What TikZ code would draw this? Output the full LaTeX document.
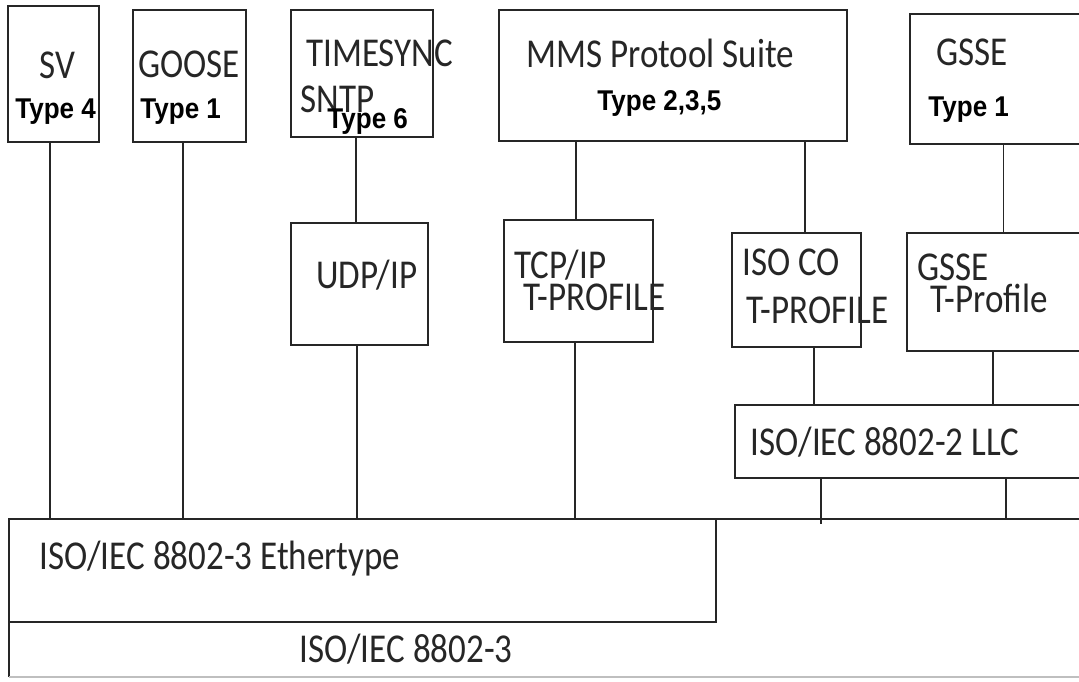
\documentclass[tikz,border=0pt]{standalone}
\usepackage{fontspec}
\usepackage{tikz}
\newfontfamily\calib[FakeStretch=0.854]{Carlito}
\newfontfamily\arialfont[FakeStretch=0.91]{Liberation Sans}

\begin{document}
\begin{tikzpicture}[x=0.5pt,y=-0.5pt,
  box/.style={draw=black!85,line width=1pt,inner sep=0pt,outer sep=0pt},
  link/.style={draw=black!85,line width=0.8pt},
  lbl/.style={anchor=base west,inner sep=0pt,text=black!85,font=\calib\fontsize{20.5}{24}\selectfont},
  typ/.style={anchor=base west,inner sep=0pt,font=\arialfont\bfseries\fontsize{14.3}{17}\selectfont}]
\useasboundingbox (0,0) rectangle (1079,681);
\clip (0,0) rectangle (1079,681);
% application boxes
\node[box,minimum width=45.5pt,minimum height=68pt] (sv) at (53.5,74) {};
\node[box,minimum width=56.5pt,minimum height=66pt] (goose) at (189.5,76) {};
\node[box,minimum width=71pt,minimum height=63.5pt] (tsync) at (362,73.5) {};
\node[box,minimum width=174pt,minimum height=65.5pt] (mms) at (673,75.5) {};
\node[box,minimum width=95pt,minimum height=65pt] (gsse) at (1005,79) {};
% transport profiles
\node[box,minimum width=68.5pt,minimum height=61pt] (udp) at (359.5,284) {};
\node[box,minimum width=74.5pt,minimum height=61pt] (tcp) at (578.5,281) {};
\node[box,minimum width=64.5pt,minimum height=57pt] (isoco) at (796.5,290) {};
\node[box,minimum width=96.5pt,minimum height=59pt] (gsset) at (1003.5,292) {};
% link layer
\node[box,minimum width=182.5pt,minimum height=36.5pt] (llc) at (917.5,441.5) {};
\node[box,minimum width=353.5pt,minimum height=51.5pt] (ether) at (362.5,570.5) {};
\node[inner sep=0pt,outer sep=0pt,minimum width=545.5pt,minimum height=27.5pt] (mac) at (554.5,649.5) {};
\draw[box] (ether.south west) -- (mac.south west);
\draw[box,draw=black!25] (mac.south west) -- (mac.south east);
\coordinate (busend) at (1079,519);
% texts
\node[lbl] (svname) at (39,78) {SV};
\node[typ] (svtype) at (15,118) {Type 4};
\node[lbl] (goosename) at (138,77) {GOOSE};
\node[typ] (goosetype) at (140,118) {Type 1};
\node[lbl] (tsyncname) at (306,66) {TIMESYNC};
\node[lbl] (sntpname) at (300,112) {SNTP};
\node[typ] (tsynctype) at (327,128) {Type 6};
\node[lbl] (mmsname) at (526,67) {MMS Protool Suite};
\node[typ] (mmstype) at (597,110) {Type 2,3,5};
\node[lbl] (gssename) at (936,65) {GSSE};
\node[typ] (gssetype) at (928,116) {Type 1};
\node[lbl] (udpname) at (316,288) {UDP/IP};
\node[lbl] (tcpname) at (514,278) {TCP/IP};
\node[lbl] (tcpprof) at (523,310) {T-PROFILE};
\node[lbl] (isoconame) at (742,275) {ISO CO};
\node[lbl] (isocoprof) at (746,323) {T-PROFILE};
\node[lbl] (gssetname) at (917,280) {GSSE};
\node[lbl] (gssetprof) at (930,312) {T-Profile};
\node[lbl] (llcname) at (750,455) {ISO/IEC 8802-2 LLC};
\node[lbl] (ethername) at (39,569) {ISO/IEC 8802-3 Ethertype};
\node[lbl] (macname) at (299,662) {ISO/IEC 8802-3};
% connectors
\draw[link] ([xshift=-1.75pt]sv.south) -- ([xshift=-1.75pt]sv.south |- ether.north);
\draw[link] ([xshift=-3.25pt]goose.south) -- ([xshift=-3.25pt]goose.south |- ether.north);
\draw[link] ([xshift=-3pt]tsync.south) -- ([xshift=-3pt]tsync.south |- udp.north);
\draw[link] ([xshift=-1.25pt]udp.south) -- ([xshift=-1.25pt]udp.south |- ether.north);
\draw[link] ([xshift=-1.25pt]tcp.north) -- ([xshift=-1.25pt]tcp.north |- mms.south);
\draw[link] ([xshift=-1.75pt]tcp.south) -- ([xshift=-1.75pt]tcp.south |- ether.north);
\draw[link] ([xshift=4.25pt]isoco.north) -- ([xshift=4.25pt]isoco.north |- mms.south);
\draw[link] ([xshift=8.75pt]isoco.south) -- ([xshift=8.75pt]isoco.south |- llc.north);
\draw[link] (gsset.north) -- (gsset.north |- gsse.south);
\draw[link] ([xshift=-5.25pt]gsset.south) -- ([xshift=-5.25pt]gsset.south |- llc.north);
\draw[link,shorten >=-2.5pt] ([xshift=-48.25pt]llc.south) -- ([xshift=-48.25pt]llc.south |- ether.north);
\draw[link] ([xshift=44.25pt]llc.south) -- ([xshift=44.25pt]llc.south |- ether.north);
\draw[box] (ether.north east) -- (busend);
\end{tikzpicture}
\end{document}
